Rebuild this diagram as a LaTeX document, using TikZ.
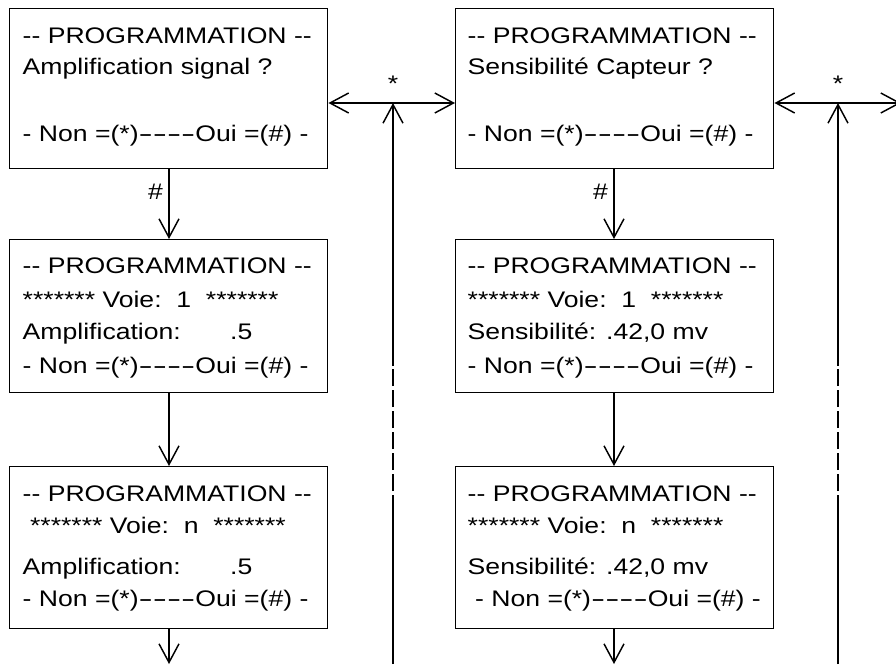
\documentclass[tikz,border=0pt]{standalone}
\usepackage{fontspec}
\setmainfont{Liberation Sans}[FakeStretch=1.18]
\usetikzlibrary{arrows.meta}
% a wide hyphen, as used in the "----" runs
\newcommand{\whyph}{\scalebox{1.6}[1]{-}}
\newcommand{\wrun}{\whyph\whyph\whyph\whyph}
\newcommand{\progtitle}{-{}- PROGRAMMATION -{}-}
\newcommand{\nonoui}{- Non =(*)\wrun Oui =(\#) -}
\begin{document}
\begin{tikzpicture}[x=0.75pt,y=-0.75pt,
  line width=1.1pt,
  >={Straight Barb[length=14pt,width=15pt]},
  box/.style={draw,rectangle,minimum width=238.5pt,inner sep=0pt,anchor=north west},
  txt/.style={anchor=base west,inner sep=0pt,font=\fontsize{16.9pt}{20pt}\selectfont},
  lbl/.style={inner sep=0pt,font=\fontsize{16.9pt}{20pt}\selectfont},
  gapdash/.style={dash pattern=on 12.75pt off 3pt}]
\useasboundingbox (0,0) rectangle (896,664);

% ---- boxes ----
\node[box,minimum height=120pt]   (b1) at (9,8) {};
\node[box,minimum height=114.75pt] (b2) at (9,239) {};
\node[box,minimum height=121.5pt] (b3) at (9,466) {};
\node[box,minimum height=120pt]   (b4) at (455,8) {};
\node[box,minimum height=114.75pt] (b5) at (455,239) {};
\node[box,minimum height=121.5pt] (b6) at (455,466) {};

% ---- texts, left column ----
\node[txt] (t1a) at (22,43)  {\progtitle};
\node[txt] (t1b) at (22,74)  {Amplification signal ?};
\node[txt] (t1c) at (22,141) {\nonoui};

\node[txt] (t2a) at (22,273) {\progtitle};
\node[txt] (t2b) at (22,307) {******* Voie:\ \ 1\ \ *******};
\node[txt] (t2c) at (22,339) {Amplification:\hspace{37pt}.5};
\node[txt] (t2d) at (22,373) {\nonoui};

\node[txt] (t3a) at (22,501) {\progtitle};
\node[txt] (t3b) at (22,533) {\ ******* Voie:\ \ n\ \ *******};
\node[txt] (t3c) at (22,574) {Amplification:\hspace{37pt}.5};
\node[txt] (t3d) at (22,606) {\nonoui};

% ---- texts, right column ----
\node[txt] (t4a) at (467,43)  {\progtitle};
\node[txt] (t4b) at (467,74)  {Sensibilité Capteur ?};
\node[txt] (t4c) at (467,141) {\nonoui};

\node[txt] (t5a) at (467,273) {\progtitle};
\node[txt] (t5b) at (467,307) {******* Voie:\ \ 1\ \ *******};
\node[txt] (t5c) at (467,339) {Sensibilité: .42,0 mv};
\node[txt] (t5d) at (467,373) {\nonoui};

\node[txt] (t6a) at (467,501) {\progtitle};
\node[txt] (t6b) at (467,533) {******* Voie:\ \ n\ \ *******};
\node[txt] (t6c) at (467,574) {Sensibilité: .42,0 mv};
\node[txt] (t6d) at (467,606) {\ \nonoui};

% ---- junctions and free ends ----
\coordinate (j1) at (393,103);
\coordinate (j2) at (838,103);
\coordinate (r1) at (901,103);
\coordinate (d1a) at (393,664);
\coordinate (d1b) at (393,512);
\coordinate (d1c) at (393,366);
\coordinate (d2a) at (838,664);
\coordinate (d2b) at (838,512);
\coordinate (d2c) at (838,366);
\coordinate (e3) at (169,664);
\coordinate (e6) at (614,664);

% ---- vertical flow ----
\draw[->] (b1.south -| 169,0) -- (b2.north -| 169,0) node[lbl,pos=0.32,left=4pt] (h1) {\#};
\draw[->] (b2.south -| 169,0) -- (b3.north -| 169,0);
\draw[->] (b3.south -| e3) -- (e3);
\draw[->] (b4.south -| 614,0) -- (b5.north -| 614,0) node[lbl,pos=0.32,left=4pt] (h2) {\#};
\draw[->] (b5.south -| 614,0) -- (b6.north -| 614,0);
\draw[->] (b6.south -| e6) -- (e6);

% ---- "*" branches ----
\draw[<->] (b1.east |- j1) -- (b4.west |- j1);
\node[lbl] (s1) at (393,84) {*};
\draw[<->] (b4.east |- j2) -- (r1);
\node[lbl] (s2) at (838,84) {*};

% ---- return lines ----
\draw (d1a) -- (d1b);
\draw[gapdash] (d1b) -- (d1c);
\draw[->] (d1c) -- (j1);
\draw (d2a) -- (d2b);
\draw[gapdash] (d2b) -- (d2c);
\draw[->] (d2c) -- (j2);
\end{tikzpicture}
\end{document}
